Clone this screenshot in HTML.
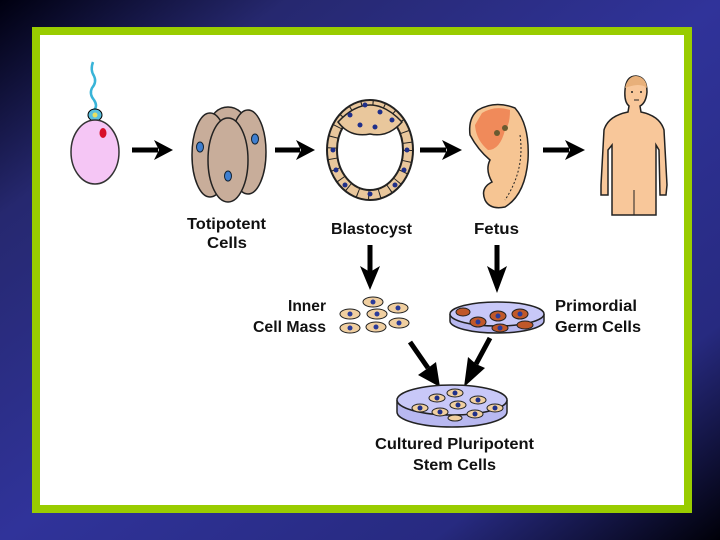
<!DOCTYPE html>
<html><head><style>
html,body{margin:0;padding:0;width:720px;height:540px;overflow:hidden}
body{background:#2e3090}
</style></head><body>
<svg width="720" height="540" viewBox="0 0 720 540" xmlns="http://www.w3.org/2000/svg">
<defs>
<linearGradient id="bg" x1="0" y1="0" x2="1" y2="1">
<stop offset="0" stop-color="#000010"/><stop offset="0.2" stop-color="#26286f"/><stop offset="0.5" stop-color="#30339a"/><stop offset="0.8" stop-color="#272a80"/><stop offset="1" stop-color="#000008"/>
</linearGradient>
</defs>
<rect width="720" height="540" fill="url(#bg)"/>
<rect x="36" y="31" width="652" height="478" fill="#fff" stroke="#99cc00" stroke-width="8"/>
<g font-family="Liberation Sans, sans-serif" font-weight="bold" font-size="16" fill="#111">
<text x="187" y="229" textLength="79" lengthAdjust="spacingAndGlyphs">Totipotent</text>
<text x="207" y="248" textLength="40" lengthAdjust="spacingAndGlyphs">Cells</text>
<text x="331" y="234" textLength="81" lengthAdjust="spacingAndGlyphs">Blastocyst</text>
<text x="474" y="234" textLength="45" lengthAdjust="spacingAndGlyphs">Fetus</text>
<text x="288" y="311" textLength="38" lengthAdjust="spacingAndGlyphs">Inner</text>
<text x="253" y="332" textLength="73" lengthAdjust="spacingAndGlyphs">Cell Mass</text>
<text x="555" y="311" textLength="82" lengthAdjust="spacingAndGlyphs">Primordial</text>
<text x="555" y="332" textLength="86" lengthAdjust="spacingAndGlyphs">Germ Cells</text>
<text x="375" y="449" textLength="159" lengthAdjust="spacingAndGlyphs">Cultured Pluripotent</text>
<text x="413" y="470" textLength="83" lengthAdjust="spacingAndGlyphs">Stem Cells</text>
</g>
<!-- egg + sperm -->
<path d="M93,62 q-3,8 1,14 q3,6 -2,12 q-3,6 2,12 q4,6 0,10" fill="none" stroke="#39b4d8" stroke-width="2.5"/>
<ellipse cx="95" cy="115" rx="7" ry="6" fill="#5bc0de" stroke="#000"/>
<circle cx="95" cy="115" r="2.5" fill="#e8e060"/>
<ellipse cx="95" cy="152" rx="24" ry="32" fill="#f5c6f5" stroke="#333" stroke-width="1.5"/>
<ellipse cx="103" cy="133" rx="3.5" ry="5" fill="#d8102a"/>
<!-- arrows -->
<g stroke="#000" stroke-width="5" fill="#000">
<line x1="132" y1="150" x2="158" y2="150"/><path d="M154,140 L173,150 L154,160 L159,150z" stroke="none"/>
<line x1="275" y1="150" x2="300" y2="150"/><path d="M296,140 L315,150 L296,160 L301,150z" stroke="none"/>
<line x1="420" y1="150" x2="446" y2="150"/><path d="M442,140 L462,150 L442,160 L447,150z" stroke="none"/>
<line x1="543" y1="150" x2="569" y2="150"/><path d="M565,140 L585,150 L565,160 L570,150z" stroke="none"/>
<line x1="370" y1="245" x2="370" y2="272"/><path d="M360,266 L370,290 L380,266 L370,272z" stroke="none"/>
<line x1="497" y1="245" x2="497" y2="272"/><path d="M487,266 L497,293 L507,266 L497,272z" stroke="none"/>
<line x1="410" y1="342" x2="428" y2="368"/><path d="M418,375 L440,387 L436,362 L428,368z" stroke="none"/>
<line x1="490" y1="338" x2="476" y2="364"/><path d="M468,357 L464,387 L485,368 L476,364z" stroke="none"/>
</g>
<!-- totipotent -->
<g stroke="#222" stroke-width="1.5" fill="#c8ad9a">
<ellipse cx="228" cy="125" rx="18" ry="18"/>
<ellipse cx="210" cy="155" rx="18" ry="42"/>
<ellipse cx="248" cy="152" rx="18" ry="42"/>
<ellipse cx="228" cy="160" rx="20" ry="42"/>
</g>
<g fill="#3f7fd0" stroke="#123"><ellipse cx="200" cy="147" rx="3.5" ry="5"/><ellipse cx="255" cy="139" rx="3.5" ry="5"/><ellipse cx="228" cy="176" rx="3.5" ry="5"/></g>
<!-- blastocyst -->
<ellipse cx="370" cy="150" rx="38" ry="45" fill="none" stroke="#222" stroke-width="12"/>
<ellipse cx="370" cy="150" rx="38" ry="45" fill="none" stroke="#e9c79c" stroke-width="8"/>
<ellipse cx="370" cy="150" rx="38" ry="45" fill="none" stroke="#222" stroke-width="9" stroke-dasharray="1 10"/>
<path d="M338,122 Q370,88 402,122 Q388,138 370,134 Q350,138 338,122z" fill="#e9c79c" stroke="#222" stroke-width="1.5"/>
<g fill="#1f2f8a"><circle cx="350" cy="115" r="2.5"/><circle cx="365" cy="105" r="2.5"/><circle cx="380" cy="112" r="2.5"/><circle cx="392" cy="120" r="2.5"/><circle cx="360" cy="125" r="2.5"/><circle cx="375" cy="127" r="2.5"/><circle cx="333" cy="150" r="2.5"/><circle cx="407" cy="150" r="2.5"/><circle cx="345" cy="185" r="2.5"/><circle cx="370" cy="194" r="2.5"/><circle cx="395" cy="185" r="2.5"/><circle cx="336" cy="170" r="2.5"/><circle cx="404" cy="170" r="2.5"/></g>
<!-- fetus -->
<path d="M478,110 Q495,100 515,108 Q530,125 528,160 Q525,195 505,207 Q490,210 485,200 Q480,188 492,182 Q485,170 490,160 Q478,150 470,135 Q468,118 478,110z" fill="#f6c593" stroke="#222" stroke-width="1.5"/>
<path d="M482,113 Q495,105 510,110 Q510,125 505,130 Q500,150 488,150 Q476,140 475,125z" fill="#f08a5a"/>
<circle cx="497" cy="133" r="3" fill="#6a5a30"/><circle cx="505" cy="128" r="3" fill="#6a5a30"/>
<path d="M520,135 Q525,170 505,200" fill="none" stroke="#222" stroke-dasharray="2 2"/>
<!-- human -->
<path d="M625,90 Q626,76 636,76 Q647,77 647,92 Q646,103 640,106 L641,112 Q660,116 664,130 L667,185 L666,195 L660,195 L659,150 L656,145 L656,215 L612,215 L612,145 L608,150 L608,195 L601,195 L601,185 L604,130 Q608,116 628,112 L629,106 Q624,102 625,90z" fill="#f8c79a" stroke="#222" stroke-width="1.5"/>
<path d="M625,88 Q628,76 636,76 Q646,77 647,88 Q640,82 625,88z" fill="#e8b07a"/>
<g fill="#222"><circle cx="632" cy="92" r="1"/><circle cx="641" cy="92" r="1"/></g>
<line x1="634" y1="100" x2="639" y2="100" stroke="#222"/>
<line x1="634" y1="190" x2="634" y2="215" stroke="#222"/>
<!-- ICM cells -->
<g stroke="#222" fill="#f0cfa0">
<ellipse cx="373" cy="302" rx="10" ry="5"/><ellipse cx="398" cy="308" rx="10" ry="5"/><ellipse cx="350" cy="314" rx="10" ry="5"/><ellipse cx="377" cy="314" rx="10" ry="5"/><ellipse cx="350" cy="328" rx="10" ry="5"/><ellipse cx="376" cy="327" rx="10" ry="5"/><ellipse cx="399" cy="323" rx="10" ry="5"/>
</g>
<g fill="#2a3b9a"><circle cx="373" cy="302" r="2.5"/><circle cx="398" cy="308" r="2.5"/><circle cx="350" cy="314" r="2.5"/><circle cx="377" cy="314" r="2.5"/><circle cx="350" cy="328" r="2.5"/><circle cx="376" cy="327" r="2.5"/><circle cx="399" cy="323" r="2.5"/></g>
<!-- dish 1 -->
<path d="M450,314 L450,321 A47,12 0 0 0 544,321 L544,314" fill="#b8b8f0" stroke="#222" stroke-width="1.5"/>
<ellipse cx="497" cy="314" rx="47" ry="12" fill="#c8c8f8" stroke="#222" stroke-width="1.5"/>
<g fill="#c0582a" stroke="#222"><ellipse cx="478" cy="322" rx="8" ry="5"/><ellipse cx="498" cy="316" rx="8" ry="5"/><ellipse cx="520" cy="314" rx="8" ry="5"/><ellipse cx="463" cy="312" rx="7" ry="4"/><ellipse cx="525" cy="325" rx="8" ry="4"/><ellipse cx="500" cy="328" rx="8" ry="4"/></g>
<g fill="#2a3b9a"><circle cx="478" cy="322" r="2.5"/><circle cx="498" cy="316" r="2.5"/><circle cx="520" cy="314" r="2.5"/><circle cx="500" cy="328" r="2.5"/></g>
<!-- dish 2 -->
<path d="M397,400 L397,412 A55,15 0 0 0 507,412 L507,400" fill="#b8b8f0" stroke="#222" stroke-width="1.5"/>
<ellipse cx="452" cy="400" rx="55" ry="15" fill="#c8c8f8" stroke="#222" stroke-width="1.5"/>
<g fill="#f0cfa0" stroke="#222"><ellipse cx="420" cy="408" rx="8" ry="4"/><ellipse cx="437" cy="398" rx="8" ry="4"/><ellipse cx="455" cy="393" rx="8" ry="4"/><ellipse cx="458" cy="405" rx="8" ry="4"/><ellipse cx="478" cy="400" rx="8" ry="4"/><ellipse cx="440" cy="412" rx="8" ry="4"/><ellipse cx="475" cy="414" rx="8" ry="4"/><ellipse cx="495" cy="408" rx="8" ry="4"/><ellipse cx="455" cy="418" rx="7" ry="3"/></g>
<g fill="#1f2f8a"><circle cx="420" cy="408" r="2.5"/><circle cx="437" cy="398" r="2.5"/><circle cx="455" cy="393" r="2.5"/><circle cx="458" cy="405" r="2.5"/><circle cx="478" cy="400" r="2.5"/><circle cx="440" cy="412" r="2.5"/><circle cx="475" cy="414" r="2.5"/><circle cx="495" cy="408" r="2.5"/></g>
</svg>
</body></html>
